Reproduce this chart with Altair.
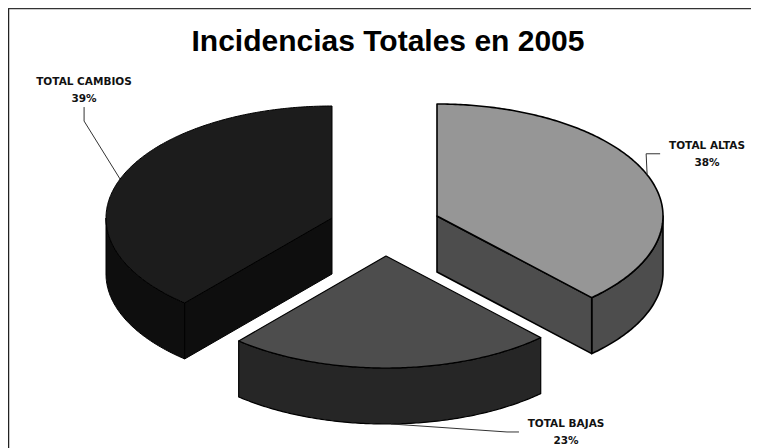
import math
import altair as alt

TITLE = "Incidencias Totales en 2005"
names = ["TOTAL ALTAS", "TOTAL BAJAS", "TOTAL CAMBIOS"]
shares = [38.0, 23.3, 38.7]
pct_labels = ["38%", "23%", "39%"]
top_colors = ["#969696", "#4d4d4d", "#1c1c1c"]
rim_colors = ["#4d4d4d", "#262626", "#0e0e0e"]
cut_colors = ["#4d4d4d", "#262626", "#0e0e0e"]
stroke_w = [1.6, 1.2, 1.0]
centers = [(437, 216), (386, 256), (332, 218)]
RX, RY, DEPTH = 226, 112, 56
PAGE = 8


def pt(c, a, dz=0):
    r = math.radians(a)
    return [c[0] + RX * math.sin(r), c[1] - RY * math.cos(r) + dz]


def arc(c, a0, a1, dz=0):
    n = max(2, int(abs(a1 - a0) * 1.5))
    return [pt(c, a0 + (a1 - a0) * i / n, dz) for i in range(n + 1)]


def poly(points, fill, sw):
    ring = points + [points[0]]
    return {"type": "Feature", "geometry": {"type": "Polygon", "coordinates": [ring]},
            "properties": {"fill": fill, "sw": sw}}


def line(points):
    return {"type": "Feature", "geometry": {"type": "LineString", "coordinates": points},
            "properties": {}}


faces, leaders = [], []
start = 0.0
spans = []
for i, s in enumerate(shares):
    end = start + s * 3.6
    spans.append((start, end))
    start = end

# elbow offsets of the leader lines, from rim point towards the label
elbows = [[(-1, -21), (13, -21)], [(116, 8), (128, 8)], [(-36, -58), (-36, -72)]]

for i in [2, 0, 1]:
    c = centers[i]
    a0, a1 = spans[i]
    lo, hi = max(a0, 90), min(a1, 270)
    rim = arc(c, lo, hi) + arc(c, hi, lo, DEPTH)
    faces.append(poly(rim, rim_colors[i], stroke_w[i]))
    if a1 < 180:  # cut edge facing the viewer at the slice end
        e = pt(c, a1)
        cut = [list(c), e, [e[0], e[1] + DEPTH], [c[0], c[1] + DEPTH]]
        faces.append(poly(cut, cut_colors[i], stroke_w[i]))
    if a0 > 180:  # cut edge facing the viewer at the slice start
        e = pt(c, a0)
        cut = [list(c), e, [e[0], e[1] + DEPTH], [c[0], c[1] + DEPTH]]
        faces.append(poly(cut, cut_colors[i], stroke_w[i]))
    top = [list(c)] + arc(c, a0, a1)
    faces.append(poly(top, top_colors[i], stroke_w[i]))
    mid = (a0 + a1) / 2
    m = pt(c, mid, DEPTH if 90 < mid < 270 else 0)
    leaders.append(line([m] + [[m[0] + dx, m[1] + dy] for dx, dy in elbows[i]]))

proj = dict(type="identity", scale=1, translate=[-PAGE, -PAGE])

shapes = alt.Chart(alt.Data(values=faces)).mark_geoshape(stroke="black", strokeJoin="round").encode(
    fill=alt.Fill("properties.fill:N", scale=None),
    strokeWidth=alt.StrokeWidth("properties.sw:Q", scale=None),
).project(**proj)

lead = alt.Chart(alt.Data(values=leaders)).mark_geoshape(
    filled=False, stroke="#333333", strokeWidth=1
).project(**proj)

frame_l = alt.Chart().mark_rule(color="#222222", strokeWidth=1.5).encode(
    x=alt.value(0.5), y=alt.value(0), y2=alt.value(440))
frame_t = alt.Chart().mark_rule(color="#333333", strokeWidth=1.5).encode(
    x=alt.value(0), x2=alt.value(743), y=alt.value(0.5))

title = alt.Chart(alt.Data(values=[{"t": TITLE}])).mark_text(
    font="Liberation Sans", fontWeight="bold", fontSize=30, color="black",
    align="center", baseline="alphabetic", x=388 - PAGE, y=51 - PAGE
).encode(text="t:N")

label_pos = [(707, 149, 166), (566, 427, 444), (84, 85, 102)]
rows = []
for i in range(3):
    x, y1, y2 = label_pos[i]
    rows.append({"t": names[i], "px": x - PAGE, "py": y1 - PAGE})
    rows.append({"t": pct_labels[i], "px": x - PAGE, "py": y2 - PAGE})

labels = alt.Chart(alt.Data(values=rows)).mark_text(
    font="DejaVu Sans", fontWeight="bold", fontSize=10.5, color="#111111",
    align="center", baseline="alphabetic"
).encode(
    x=alt.X("px:Q", scale=None), y=alt.Y("py:Q", scale=None), text="t:N"
)

chart = alt.layer(shapes, lead, frame_l, frame_t, title, labels).properties(
    width=743, height=440, padding=0,
    autosize=alt.AutoSizeParams(type="none"), background="white"
).configure_view(stroke=None)

chart.save("out.html", embed_options={"renderer": "svg", "actions": False})
